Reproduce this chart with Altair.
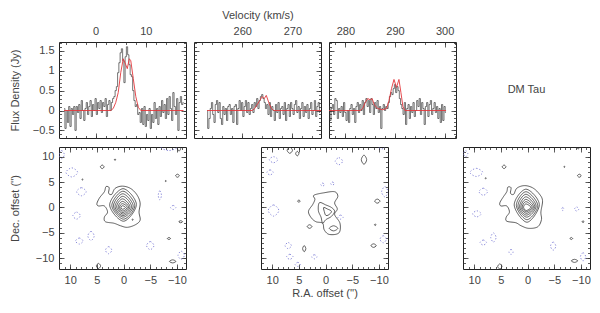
import altair as alt
import pandas as pd

FONT = "Liberation Sans"
FS = 11
TXT = "#444444"

# ---------------- spectra (Flux density vs velocity) ----------------
V_START = [-6.25, 253.0, 276.75]
V_STEP = 0.25

flux_1 = [0.05, -0.45, 0.0, -0.3, 0.1, -0.4, 0.05, -0.1, 0.1, -0.5,
          0.1, -0.05, 0.15, -0.2, 0.25, 0.0, -0.25, 0.05, 0.2, -0.1,
          0.1, 0.25, -0.15, 0.15, 0.0, 0.3, -0.1, 0.2, 0.05, 0.25,
          -0.05, 0.2, 0.1, 0.3, -0.15, 0.15, 0.25, 0.0, 0.2, 0.3,
          0.35, 0.5, 0.6, 0.95, 1.2, 1.45, 1.55, 1.25, 0.7, 1.35,
          1.6, 1.4, 1.15, 0.9, 0.85, 0.5, 0.25, 0.1, 0.15, -0.1,
          -0.05, -0.3, 0.05, -0.35, 0.1, -0.4, -0.1, -0.25, 0.05, -0.45,
          -0.1, -0.3, 0.2, -0.2, 0.05, -0.35, 0.1, -0.15, 0.25, -0.05,
          0.15, -0.2, 0.3, -0.1, 0.35, 0.05, -0.25, 0.45, 0.1, -0.1,
          0.3, -0.5, 0.2, 0.35, 0.15, 0.2]
flux_2 = [0.0, -0.45, -0.2, 0.05, 0.2, -0.1, -0.3, 0.15, 0.25, -0.05,
          0.2, -0.2, -0.35, 0.1, -0.1, 0.05, -0.25, 0.1, 0.15, -0.1,
          0.05, -0.3, 0.1, 0.15, -0.35, 0.05, 0.25, 0.0, 0.2, -0.15,
          0.1, 0.25, -0.05, 0.2, -0.1, 0.05, 0.15, -0.05, 0.2, 0.1,
          0.3, 0.05, 0.25, 0.35, 0.4, 0.3, 0.2, 0.05, 0.15, -0.1,
          0.2, -0.15, 0.1, 0.0, -0.25, 0.15, -0.05, 0.2, -0.2, 0.05,
          0.1, -0.1, 0.2, -0.25, 0.05, 0.15, -0.15, 0.2, 0.05, -0.1,
          0.15, 0.25, -0.05, 0.1, -0.2, 0.05, 0.2, -0.15, 0.1, -0.05,
          0.15, -0.2, 0.05, 0.2, -0.1, 0.0, 0.25, -0.15, 0.1, 0.2,
          -0.05]
flux_3 = [0.1, -0.25, 0.05, 0.15, -0.1, 0.3, 0.25, -0.2, 0.05, -0.05,
          0.1, -0.15, 0.2, -0.05, -0.25, 0.0, -0.3, 0.05, 0.15, -0.1,
          0.05, -0.3, 0.1, 0.2, -0.05, 0.15, 0.0, 0.25, -0.1, 0.2,
          0.3, 0.1, 0.25, -0.05, 0.3, 0.15, -0.1, 0.2, 0.05, 0.25,
          -0.05, 0.1, -0.45, 0.05, 0.15, 0.0, 0.1, 0.05, 0.2, 0.35,
          0.45, 0.4, 0.55, 0.65, 0.45, 0.6, 0.5, 0.3, 0.15, 0.05,
          -0.1, 0.2, -0.35, 0.05, 0.15, -0.2, 0.1, -0.05, 0.2, -0.15,
          0.0, 0.25, 0.1, 0.3, -0.1, 0.2, 0.05, -0.35, 0.1, 0.2,
          -0.15, 0.15, 0.25, -0.1, 0.05, 0.2, -0.05, 0.1, -0.2, 0.05,
          -0.3, 0.15, -0.25, 0.1, -0.05]
FLUX = [flux_1, flux_2, flux_3]

model_v1 = [-6.3, 3.0, 3.5, 4.0, 4.5, 5.0, 5.5, 6.0, 6.3, 6.7, 7.0, 7.5, 8.0, 8.5, 9.0, 17.5]
model_f1 = [0, 0, 0.05, 0.2, 0.45, 0.95, 1.3, 1.15, 1.05, 1.3, 1.25, 0.8, 0.35, 0.08, 0, 0]
model_v2 = [253.0, 262.0, 262.5, 263.0, 263.5, 264.0, 264.4, 264.8, 265.3, 265.8, 266.3, 275.7]
model_f2 = [0, 0, 0.05, 0.15, 0.25, 0.35, 0.3, 0.38, 0.2, 0.05, 0, 0]
model_v3 = [276.7, 283.0, 283.5, 284.0, 284.5, 285.0, 285.4, 285.8, 286.5, 287.5, 288.3, 288.8,
            289.3, 289.8, 290.3, 290.8, 291.2, 291.6, 292.0, 300.3]
model_f3 = [0, 0, 0.05, 0.2, 0.3, 0.27, 0.3, 0.15, 0.05, 0.02, 0.05, 0.25,
            0.55, 0.78, 0.58, 0.78, 0.45, 0.1, 0, 0]
MODEL = [(model_v1, model_f1), (model_v2, model_f2), (model_v3, model_f3)]

vel_domains = [[-7.3, 18.0], [250.4, 275.7], [276.7, 302.3]]
vel_labels = [[0, 10], [260, 270], [280, 290, 300]]
vel_minor = [[-6, -4, -2, 0, 2, 4, 6, 8, 10, 12, 14, 16, 18],
             [252, 254, 256, 258, 260, 262, 264, 266, 268, 270, 272, 274],
             [278, 280, 282, 284, 286, 288, 290, 292, 294, 296, 298, 300, 302]]
flux_domain = [-0.69, 1.72]
flux_labels = [-0.5, 0, 0.5, 1, 1.5]
flux_minor = [-0.6, -0.5, -0.4, -0.3, -0.2, -0.1, 0, 0.1, 0.2, 0.3, 0.4, 0.5,
              0.6, 0.7, 0.8, 0.9, 1.0, 1.1, 1.2, 1.3, 1.4, 1.5, 1.6, 1.7]

# ---------------- maps (contours, RA / Dec offsets in arcsec) ----------------
ra_domain = [-11.7, 12.1]
dec_domain = [-12.1, 11.9]
off_labels = [-10, -5, 0, 5, 10]
off_minor = [-11, -10, -9, -8, -7, -6, -5, -4, -3, -2, -1, 0, 1, 2, 3, 4, 5, 6, 7, 8, 9, 10, 11]

map1_lines = [
    [(5.0, 0.75), (4.5, 1.9), (3.6, 3.1), (3.3, 4.1), (2.7, 3.9), (2.8, 2.8), (2.2, 2.6), (1.6, 3.75),
     (0.25, 4.2), (-1.3, 3.75), (-2.5, 2.5), (-3.1, 0.9), (-2.9, -0.9), (-3.1, -2.5), (-2.2, -3.4),
     (-0.7, -3.9), (0.55, -3.6), (1.8, -3.1), (3.4, -2.8), (3.6, -1.9), (3.0, -0.9), (3.6, 0.3), (4.7, 0.3)],
    [(2.6, 0.5), (0.1, 3.7), (-2.4, 0.6), (0.0, -2.7)],
    [(2.2, 0.4), (0.1, 3.2), (-2.1, 0.4), (0.0, -2.3)],
    [(1.9, 0.3), (0.15, 2.7), (-1.8, 0.3), (0.05, -1.9)],
    [(1.6, 0.2), (0.15, 2.2), (-1.5, 0.2), (0.1, -1.6)],
    [(1.3, 0.15), (0.2, 1.7), (-1.2, 0.15), (0.1, -1.3)],
    [(1.0, 0.1), (0.2, 1.2), (-0.95, 0.1), (0.15, -1.0)],
    [(0.75, 0.05), (0.2, 0.75), (-0.7, 0.05), (0.15, -0.7)],
    [(0.5, 0.0), (0.2, 0.35), (-0.35, 0.0), (0.2, -0.35)],
]
map1_pos = [[4.0, 8.0, 0.35, 0.35], [1.6, 9.4, 0.12, 0.15], [7.7, 5.5, 0.12, 0.1], [-7.9, 5.2, 0.12, 0.1],
            [-10.1, 6.25, 0.35, 0.3], [-10.7, -2.8, 0.35, 0.2], [-8.5, -6.1, 0.3, 0.2],
            [-9.2, -10.6, 0.6, 0.3], [4.7, -11.5, 0.4, 0.5], [-10.4, 11.6, 0.3, 0.5], [-1.7, -2.4, 0.12, 0.12]]
map1_neg = [[9.7, 6.9, 1.1, 0.9], [7.9, 3.1, 0.9, 0.8], [8.8, -1.6, 0.7, 0.7], [8.3, -6.6, 0.7, 0.6],
            [6.1, -5.6, 0.6, 0.9], [2.8, -8.4, 0.6, 0.7], [-5.0, -7.5, 0.7, 0.8], [-6.8, 2.4, 0.3, 0.9],
            [-9.3, 0.0, 0.5, 0.4], [-8.5, 11.8, 1.5, 0.6], [11.6, 10.4, 0.5, 0.8], [-10.8, -9.4, 0.6, 0.8]]

map2_lines = [
    [(2.2, 2.4), (0.25, 2.9), (-1.7, 3.1), (-2.3, 2.2), (-1.7, 0.9), (-2.2, -0.3), (-1.7, -1.4),
     (-2.7, -3.1), (-2.5, -5.0), (-0.7, -5.3), (0.25, -4.4), (0.55, -3.1), (1.8, -2.8), (2.7, -2.0),
     (3.2, -0.75), (2.4, 0.6), (2.0, 1.6)],
    [(1.15, 0.95), (-0.05, 0.5), (-1.1, 0.0), (-1.7, -0.75), (-1.1, -1.75), (-0.05, -2.4),
     (0.55, -3.1), (0.85, -1.9), (1.35, -0.6)],
    [(0.35, 0.0), (-0.35, -0.3), (-1.1, -0.75), (-0.65, -1.4), (-0.05, -1.55), (0.25, -0.75)],
]
map2_pos = [[-1.5, -4.1, 0.8, 0.5], [6.7, 11.25, 0.5, 0.6], [5.3, 10.6, 0.3, 0.45], [-7.2, 9.4, 0.5, 0.9],
            [5.0, 1.25, 0.25, 0.2], [-9.7, 1.25, 0.5, 0.4], [3.0, -3.75, 0.45, 0.35],
            [-9.3, -3.4, 0.15, 0.15], [4.0, -8.1, 0.3, 0.6], [-9.0, -7.5, 0.5, 0.35]]
map2_neg = [[9.75, 9.4, 0.8, 0.6], [10.4, 6.9, 0.6, 0.5], [9.75, -0.6, 1.0, 1.1], [-2.5, 9.1, 0.7, 0.7],
            [0.55, 4.5, 0.35, 0.3], [-1.3, 4.7, 0.35, 0.3], [-2.8, -1.9, 0.5, 0.4], [-11.1, 3.1, 0.6, 1.0],
            [-10.8, -6.25, 0.6, 0.7], [7.0, -7.5, 0.6, 0.6], [6.7, -9.7, 0.6, 0.5], [2.1, -9.7, 0.5, 0.4],
            [5.2, -11.2, 0.5, 0.4], [-10.5, 11.9, 0.6, 0.4]]

map3_lines = [
    [(5.2, 0.9), (4.6, 2.0), (3.9, 3.1), (3.7, 4.0), (3.1, 3.9), (3.2, 2.8), (2.6, 2.6), (2.0, 3.8),
     (0.6, 4.3), (-0.9, 3.9), (-2.1, 2.8), (-2.8, 1.4), (-2.5, -0.9), (-2.6, -2.4), (-1.9, -3.8),
     (-0.2, -4.1), (1.2, -3.6), (2.2, -3.0), (3.9, -2.7), (4.0, -1.9), (3.4, -0.9), (3.9, 0.3), (5.0, 0.3)],
    [(2.5, 0.5), (0.3, 3.6), (-2.2, 0.6), (0.1, -2.9)],
    [(2.1, 0.4), (0.3, 3.1), (-1.9, 0.4), (0.1, -2.4)],
    [(1.8, 0.3), (0.3, 2.6), (-1.6, 0.3), (0.15, -1.9)],
    [(1.5, 0.2), (0.3, 2.1), (-1.35, 0.2), (0.2, -1.5)],
    [(1.25, 0.15), (0.3, 1.6), (-1.1, 0.15), (0.2, -1.15)],
    [(1.0, 0.1), (0.3, 1.15), (-0.85, 0.1), (0.25, -0.85)],
    [(0.75, 0.05), (0.3, 0.7), (-0.6, 0.05), (0.25, -0.6)],
]
map3_pos = [[4.4, 8.0, 0.35, 0.35], [7.85, 5.75, 0.12, 0.1], [-6.9, 8.0, 0.12, 0.1], [-9.7, 6.25, 0.35, 0.3],
            [-10.4, -2.8, 0.2, 0.15], [-8.2, -6.1, 0.25, 0.2], [-8.8, -10.5, 0.6, 0.3],
            [5.2, -11.6, 0.4, 0.5], [-9.5, 11.7, 0.15, 0.2]]
map3_neg = [[9.6, 6.9, 1.2, 0.8], [8.3, 3.1, 0.8, 0.7], [9.5, -1.25, 0.8, 0.6], [8.3, -6.9, 0.6, 0.5],
            [6.4, -5.9, 0.5, 0.9], [3.1, -8.75, 0.4, 0.5], [-4.8, -7.6, 0.5, 0.8], [-6.6, -0.3, 0.2, 0.3],
            [-9.2, -0.3, 0.4, 0.4], [-10.4, -9.7, 0.5, 0.8], [11.6, 10.6, 0.4, 0.6]]

MAPS = [(map1_lines, map1_pos, map1_neg), (map2_lines, map2_pos, map2_neg), (map3_lines, map3_pos, map3_neg)]

PANEL_W = 127
SPEC_H = 96
MAP_H = 122
TITLE_X = -39
LABEL_FMT = ".2~f"


def tick_layers(xs, ys, x_major, x_minor, y_major, y_minor, xmid, ymid):
    dummy = pd.DataFrame({"tx": [xmid], "ty": [ymid]})
    out = []
    for xo, yo in (("bottom", "left"), ("top", "right")):
        for vx, vy, size in ((x_major, y_major, 5), (x_minor, y_minor, 2.5)):
            out.append(alt.Chart(dummy).mark_point(opacity=0).encode(
                x=alt.X("tx:Q", scale=xs, axis=alt.Axis(orient=xo, values=vx, tickSize=size, offset=-size,
                                                        labels=False, title=None, domain=False, grid=False)),
                y=alt.Y("ty:Q", scale=ys, axis=alt.Axis(orient=yo, values=vy, tickSize=size, offset=-size,
                                                        labels=False, title=None, domain=False, grid=False)),
            ))
    return out


def spectrum_panel(k):
    xs = alt.Scale(domain=vel_domains[k], zero=False, nice=False)
    ys = alt.Scale(domain=flux_domain, zero=False, nice=False)
    obs = pd.DataFrame({"vel": [V_START[k] + i * V_STEP for i in range(len(FLUX[k]))], "flux": FLUX[k]})
    mod = pd.DataFrame({"vel": MODEL[k][0], "flux": MODEL[k][1]})
    xaxis = dict(orient="top", values=vel_labels[k], format=LABEL_FMT, labelPadding=6, ticks=False, tickSize=0,
                 domain=False, grid=False, labelFlush=False, labelOverlap=False)
    if k == 1:
        xaxis.update(title="Velocity (km/s)", titlePadding=5)
    else:
        xaxis.update(title=None)
    if k == 0:
        yaxis = alt.Axis(orient="left", values=flux_labels, format=LABEL_FMT, labelPadding=5, ticks=False,
                         tickSize=0, domain=False, grid=False, labelFlush=False, labelOverlap=False,
                         title="Flux Density (Jy)", titleX=TITLE_X)
    else:
        yaxis = None
    line_obs = alt.Chart(obs).mark_line(interpolate="step", color="#3a3a3a", strokeWidth=0.7, clip=True).encode(
        x=alt.X("vel:Q", scale=xs, axis=alt.Axis(**xaxis)),
        y=alt.Y("flux:Q", scale=ys, axis=yaxis),
    )
    line_mod = alt.Chart(mod).mark_line(color="#e3373c", strokeWidth=1, opacity=0.9, clip=True).encode(
        x=alt.X("vel:Q", scale=xs, axis=None),
        y=alt.Y("flux:Q", scale=ys, axis=None),
    )
    ticks = tick_layers(xs, ys, vel_labels[k], vel_minor[k], flux_labels, flux_minor,
                        sum(vel_domains[k]) / 2, 0.5)
    return alt.layer(line_obs, line_mod, *ticks).resolve_axis(x="independent", y="independent").properties(
        width=PANEL_W, height=SPEC_H)


def contour_table(lines, pos, neg):
    rows = []
    for c, pts in enumerate(lines):
        for j, (ra, dec) in enumerate(pts):
            rows.append({"ra": ra, "dec": dec, "cid": f"l{c}", "ord": j, "sign": "pos"})
    for sign, blobs in (("pos", pos), ("neg", neg)):
        for b, (ra, dec, rx, ry) in enumerate(blobs):
            pts = [(ra + rx, dec), (ra, dec + ry), (ra - rx, dec), (ra, dec - ry)]
            for j, (x, y) in enumerate(pts):
                rows.append({"ra": x, "dec": y, "cid": f"{sign}{b}", "ord": j, "sign": sign})
    return pd.DataFrame(rows)


def map_panel(k):
    xs = alt.Scale(domain=ra_domain, reverse=True, zero=False, nice=False)
    ys = alt.Scale(domain=dec_domain, zero=False, nice=False)
    df = contour_table(*MAPS[k])
    xaxis = dict(orient="bottom", values=off_labels, format=LABEL_FMT, labelPadding=5, ticks=False, tickSize=0,
                 domain=False, grid=False, labelFlush=False, labelOverlap=False)
    if k == 1:
        xaxis.update(title="R.A. offset ('')", titlePadding=2)
    else:
        xaxis.update(title=None)
    if k == 0:
        yaxis = alt.Axis(orient="left", values=off_labels, format=LABEL_FMT, labelPadding=5, ticks=False,
                         tickSize=0, domain=False, grid=False, labelFlush=False, labelOverlap=False,
                         title="Dec. offset ('')", titleX=TITLE_X)
    else:
        yaxis = None
    cont = alt.Chart(df).mark_line(interpolate="cardinal-closed", strokeWidth=0.8, clip=True).encode(
        x=alt.X("ra:Q", scale=xs, axis=alt.Axis(**xaxis)),
        y=alt.Y("dec:Q", scale=ys, axis=yaxis),
        detail="cid:N",
        order="ord:Q",
        color=alt.Color("sign:N", scale=alt.Scale(domain=["pos", "neg"], range=["#333333", "#7070d0"]),
                        legend=None),
        strokeDash=alt.StrokeDash("sign:N", scale=alt.Scale(domain=["pos", "neg"], range=[[1, 0], [1.3, 1.8]]),
                                  legend=None),
    )
    ticks = tick_layers(xs, ys, off_labels, off_minor, off_labels, off_minor, 0, 0)
    return alt.layer(cont, *ticks).resolve_axis(x="independent", y="independent").properties(
        width=PANEL_W, height=MAP_H)


source_name = pd.DataFrame({"label": ["DM Tau"]})
name_panel = alt.Chart(source_name).mark_text(font=FONT, fontSize=FS, color=TXT).encode(
    text="label:N").properties(width=PANEL_W, height=SPEC_H, view=alt.ViewBackground(strokeOpacity=0))

row1 = alt.hconcat(spectrum_panel(0), spectrum_panel(1), spectrum_panel(2), name_panel, spacing=6)
row2 = alt.hconcat(map_panel(0), map_panel(1), map_panel(2), spacing=73)

chart = alt.vconcat(row1, row2, spacing=7).properties(padding=0).configure_view(
    stroke="#222222", strokeWidth=1
).configure_axis(
    labelFont=FONT, labelFontSize=FS, labelColor=TXT, titleFont=FONT, titleFontSize=FS,
    titleFontWeight="normal", titleColor=TXT, tickColor="#333333", tickWidth=0.8
)

chart.save("out.html", embed_options={"renderer": "svg", "actions": False})
